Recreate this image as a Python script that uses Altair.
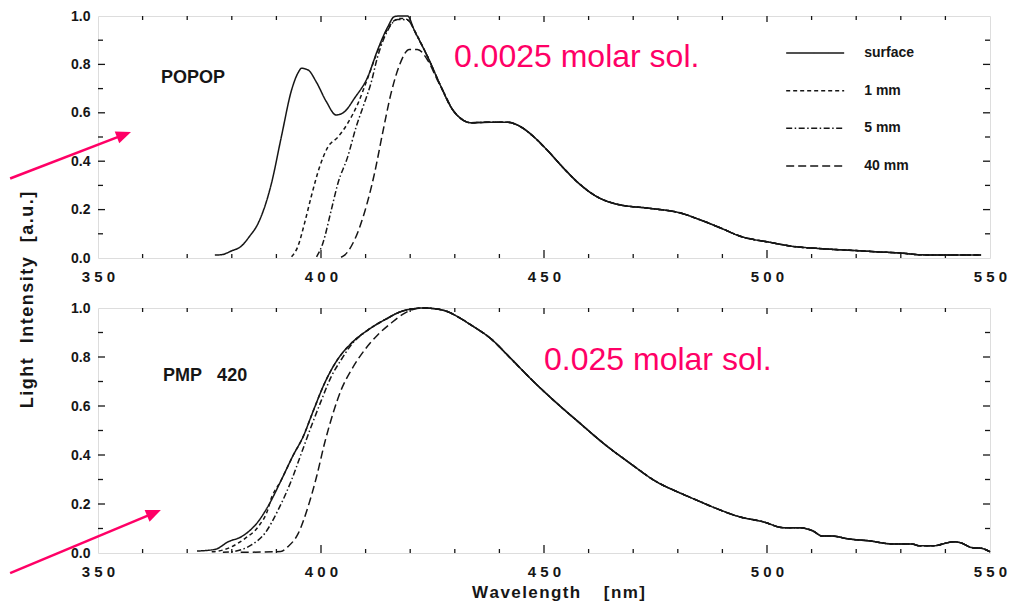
import altair as alt
import pandas as pd

# ---------------- data ----------------
SERIES = ["surface", "1 mm", "5 mm", "40 mm"]

# POPOP, 0.0025 molar solution
popop_surface_wl = [376.2, 377.8, 380.0, 382.0, 384.0, 385.9, 388.9, 391.1, 393.4, 395.0, 395.6,
                    397.1, 398.9, 401.2, 403.4, 405.3, 407.5, 410.5, 412.7, 415.0, 416.4, 417.5,
                    419.4, 420.9, 423.9, 426.9, 429.1, 431.3, 433.6, 438.0, 441.8, 444.7, 447.7,
                    450.7, 454.4, 458.2, 461.9, 466.4, 473.9, 480.6, 485.1, 489.6, 494.0,
                    500.9, 505.8, 511.0, 516.3, 520.7, 525.0, 529.7, 534.8, 541.0, 548.0]
popop_surface_int = [0.012, 0.014, 0.030, 0.047, 0.090, 0.143, 0.309, 0.500, 0.694, 0.770, 0.784,
                     0.777, 0.729, 0.646, 0.591, 0.605, 0.660, 0.749, 0.860, 0.956, 0.997, 1.000,
                     1.000, 0.942, 0.832, 0.708, 0.625, 0.577, 0.559, 0.561, 0.561, 0.543, 0.501,
                     0.446, 0.371, 0.302, 0.253, 0.222, 0.205, 0.186, 0.157, 0.124, 0.090,
                     0.064, 0.048, 0.040, 0.034, 0.030, 0.025, 0.021, 0.013, 0.012, 0.012]
popop_1mm_wl = [393.4, 394.8, 396.3, 397.8, 399.7, 401.6, 403.8, 406.0, 408.3, 410.5, 412.7,
                415.0, 416.5, 418.0, 419.4, 420.9]
popop_1mm_int = [0.005, 0.047, 0.143, 0.253, 0.377, 0.460, 0.500, 0.557, 0.639, 0.745, 0.855,
                 0.948, 0.982, 0.990, 0.985, 0.942]
popop_5mm_wl = [399.0, 400.4, 402.3, 403.8, 406.0, 407.9, 409.7, 411.2, 412.7, 415.0, 417.2,
                419.4, 421.6]
popop_5mm_int = [0.005, 0.060, 0.198, 0.309, 0.419, 0.543, 0.639, 0.722, 0.832, 0.942, 0.986,
                 0.983, 0.914]
popop_40mm_wl = [404.5, 405.3, 407.5, 409.7, 412.0, 413.8, 415.7, 417.6, 419.8, 421.6, 423.9,
                 426.1, 428.4]
popop_40mm_int = [0.003, 0.012, 0.074, 0.185, 0.350, 0.515, 0.680, 0.797, 0.862, 0.862, 0.818,
                  0.735, 0.653]

# PMP 420, 0.025 molar solution
pmp_surface_wl = [372.2, 376.3, 379.2, 382.2, 385.9, 388.5, 391.1, 393.8, 396.0, 398.2, 400.8,
                  403.4, 406.8, 410.5, 414.2, 418.7, 423.1, 427.6, 430.6, 433.6, 438.0, 442.5,
                  447.7, 452.9, 458.1, 463.3, 469.3, 475.2, 480.5, 484.2, 488.6, 493.8, 499.0,
                  503.9, 507.2, 510.2, 512.4, 514.6, 518.4, 522.8, 528.0, 532.5, 534.0, 537.7,
                  540.0, 541.8, 543.7, 545.9, 548.1, 550.0]
pmp_surface_int = [0.008, 0.015, 0.046, 0.067, 0.128, 0.203, 0.298, 0.400, 0.475, 0.577, 0.693,
                   0.781, 0.856, 0.910, 0.951, 0.990, 1.000, 0.990, 0.965, 0.931, 0.876, 0.795,
                   0.699, 0.611, 0.529, 0.448, 0.366, 0.291, 0.245, 0.216, 0.182, 0.148, 0.128,
                   0.103, 0.103, 0.091, 0.069, 0.069, 0.057, 0.050, 0.037, 0.037, 0.030, 0.030,
                   0.040, 0.046, 0.040, 0.022, 0.019, 0.005]
pmp_1mm_wl = [375.5, 378.0, 380.0, 383.0, 385.9, 388.3]
pmp_1mm_int = [0.005, 0.012, 0.026, 0.060, 0.107, 0.190]
pmp_5mm_wl = [378.0, 380.0, 384.4, 387.4, 390.4, 393.4, 395.6, 397.8, 400.1, 402.3, 404.5, 406.8]
pmp_5mm_int = [0.003, 0.005, 0.033, 0.080, 0.176, 0.298, 0.407, 0.516, 0.624, 0.720, 0.788, 0.850]
pmp_40mm_wl = [382.0, 391.0, 392.6, 394.9, 397.1, 399.0, 400.8, 402.7, 404.5, 406.8, 409.8,
               412.7, 415.7, 418.7, 421.0]
pmp_40mm_int = [0.003, 0.006, 0.026, 0.080, 0.189, 0.311, 0.448, 0.570, 0.665, 0.747, 0.829,
                0.890, 0.938, 0.978, 0.996]

X_MAJOR_LABELS = [350, 400, 450, 500, 550]
Y_LABELS = [0.0, 0.2, 0.4, 0.6, 0.8, 1.0]
X_MINOR = [360, 370, 380, 390, 410, 420, 430, 440, 460, 470, 480, 490, 510, 520, 530, 540]
X_MAJOR = [400, 450, 500]
Y_MINOR = [0.1, 0.3, 0.5, 0.7, 0.9]
Y_MAJOR = [0.2, 0.4, 0.6, 0.8]

# ---------------- styling ----------------
PINK = "#ff0066"
INK = "#161616"
FONT = "Liberation Sans"
DASHES = [[1, 0], [4, 3], [6, 2.5, 1.5, 2.5], [8, 4]]
W = 892
H_TOP = 242
H_BOT = 245

XS = alt.Scale(domain=[350, 550], nice=False, zero=False)
YS = alt.Scale(domain=[0, 1], nice=False, zero=False)
DASH_SCALE = alt.Scale(domain=SERIES, range=DASHES)

HAIR = "\u200a"
NBSP = "\u00a0"


def spaced(word, sep=HAIR):
    return sep.join(list(word))


def build_frame(surface_wl, surface_int, others):
    rows = [{"series": "surface", "wl": w, "val": v} for w, v in zip(surface_wl, surface_int)]
    for name, wl, it in others:
        rows += [{"series": name, "wl": w, "val": v} for w, v in zip(wl, it)]
        last = wl[-1]
        rows += [{"series": name, "wl": w, "val": v}
                 for w, v in zip(surface_wl, surface_int) if w > last]
    return pd.DataFrame(rows)


popop_df = build_frame(popop_surface_wl, popop_surface_int,
                       [("1 mm", popop_1mm_wl, popop_1mm_int),
                        ("5 mm", popop_5mm_wl, popop_5mm_int),
                        ("40 mm", popop_40mm_wl, popop_40mm_int)])
pmp_df = build_frame(pmp_surface_wl, pmp_surface_int,
                     [("1 mm", pmp_1mm_wl, pmp_1mm_int),
                      ("5 mm", pmp_5mm_wl, pmp_5mm_int),
                      ("40 mm", pmp_40mm_wl, pmp_40mm_int)])

ONE = pd.DataFrame({"k": [0]})

XLABEL_EXPR = ("substring(datum.label,0,1)+' '+substring(datum.label,1,2)+' '+"
               "substring(datum.label,2,3)")

y_title = (spaced("Light") + NBSP * 3 + spaced("Intensity") + NBSP * 3 + spaced("[a.u.]"))
x_title = spaced("Wavelength") + NBSP * 5 + spaced("[nm]")


def x_axis(title=None):
    kw = dict(values=X_MAJOR_LABELS, format="d", labelExpr=XLABEL_EXPR, ticks=False,
              domain=False, grid=False, labelFontSize=15, labelFontWeight="bold",
              labelColor=INK, labelPadding=11, labelFlush=False, labelFont=FONT)
    if title:
        kw.update(title=title, titleFontSize=17, titleFontWeight="bold", titleColor=INK,
                  titlePadding=5, titleFont=FONT, titleX=460)
    else:
        kw.update(title=None)
    return alt.Axis(**kw)


Y_AXIS = alt.Axis(values=Y_LABELS, format=".1f", ticks=False, domain=False, grid=False,
                  labelFontSize=14, labelFontWeight="bold", labelColor=INK, labelPadding=8,
                  labelFont=FONT, title=None)


def panel(df, xaxis, h, extras):
    """All layers of one panel share the same scales and the same axis definitions."""

    def X(field=None, datum=None):
        if datum is not None:
            return alt.XDatum(datum, scale=XS, axis=xaxis)
        return alt.X(field, scale=XS, axis=xaxis)

    def Y(field=None, datum=None):
        if datum is not None:
            return alt.YDatum(datum, scale=YS, axis=Y_AXIS)
        return alt.Y(field, scale=YS, axis=Y_AXIS)

    layers = [alt.Chart(df).mark_line(strokeWidth=1.5, color=INK, interpolate="monotone").encode(
        x=X("wl:Q"), y=Y("val:Q"),
        strokeDash=alt.StrokeDash("series:N", scale=DASH_SCALE, legend=None),
        detail="series:N",
    )]

    # inward tick marks on all four sides
    specs = [(X_MINOR, "x", 4, 4), (X_MAJOR, "x", 8, 6),
             (Y_MINOR, "y", 5, 5), (Y_MAJOR, "y", 7, 7)]
    for vals, ch, near, far in specs:
        d = pd.DataFrame({"v": vals})
        base = alt.Chart(d).mark_rule(color=INK, strokeWidth=1.3)
        if ch == "x":
            layers.append(base.encode(x=X("v:Q"), y=alt.value(h), y2=alt.value(h - near)))
            layers.append(base.encode(x=X("v:Q"), y=alt.value(0), y2=alt.value(far)))
        else:
            layers.append(base.encode(y=Y("v:Q"), x=alt.value(0), x2=alt.value(near)))
            layers.append(base.encode(y=Y("v:Q"), x=alt.value(W), x2=alt.value(W - far)))

    for kind, args in extras:
        if kind == "text":
            text, x, y, size, color, weight, angle, align, baseline = args
            layers.append(alt.Chart(ONE).mark_text(
                text=text, fontSize=size, color=color, fontWeight=weight, angle=angle,
                align=align, baseline=baseline, font=FONT).encode(x=X(datum=x), y=Y(datum=y)))
        elif kind == "arrow":
            x0, y0, x1, y1, tx, ty, ang = args
            layers.append(alt.Chart(ONE).mark_rule(color=PINK, strokeWidth=2.5).encode(
                x=X(datum=x0), x2=alt.X2Datum(x1), y=Y(datum=y0), y2=alt.Y2Datum(y1)))
            layers.append(alt.Chart(ONE).mark_point(
                shape="M0,0 L-1,-0.42 L-1,0.42 Z", size=900, filled=True, fill=PINK,
                opacity=1, strokeWidth=0, angle=ang).encode(x=X(datum=tx), y=Y(datum=ty)))
        elif kind == "legend":
            legend_df = pd.DataFrame({"series": SERIES, "row": list(range(len(SERIES)))})
            lb = alt.Chart(legend_df).transform_calculate(ly="0.847 - 0.1556 * datum.row")
            layers.append(lb.mark_rule(color=INK, strokeWidth=1.5).encode(
                x=X(datum=504.3), x2=alt.X2Datum(517.3), y=Y("ly:Q"),
                strokeDash=alt.StrokeDash("series:N", scale=DASH_SCALE, legend=None)))
            layers.append(lb.mark_text(align="left", baseline="middle", fontSize=14,
                                       fontWeight="bold", color=INK, font=FONT).encode(
                x=X(datum=521.8), y=Y("ly:Q"), text="series:N"))
    return alt.layer(*layers).properties(width=W, height=h)


top = panel(popop_df, x_axis(), H_TOP, [
    ("legend", None),
    ("text", ("POPOP", 364.1, 0.723, 18, INK, "bold", 0, "left", "alphabetic")),
    ("text", ("0.0025 molar sol.", 429.8, 0.789, 32, PINK, "normal", 0, "left", "alphabetic")),
    ("arrow", (330.3, 0.3285, 355.7, 0.5087, 357.4, 0.5207, 339)),
    ("text", (y_title, 334.3, -0.1736, 18, INK, "bold", 270, "center", "middle")),
])

bottom = panel(pmp_df, x_axis(x_title), H_BOT, [
    ("text", ("PMP" + NBSP * 3 + "420", 364.6, 0.702, 18, INK, "bold", 0, "left", "alphabetic")),
    ("text", ("0.025 molar sol.", 450.0, 0.747, 32, PINK, "normal", 0, "left", "alphabetic")),
    ("arrow", (330.3, -0.0824, 362.5, 0.163, 364.1, 0.1755, 337)),
])

chart = alt.vconcat(top, bottom, spacing=50, bounds="flush").properties(
    padding={"left": 0, "top": 0, "right": 0, "bottom": 0},
    background="white",
).configure_view(stroke=INK, strokeWidth=1.5).configure(font=FONT)

chart.save("out.html", embed_options={"renderer": "svg", "actions": False})
